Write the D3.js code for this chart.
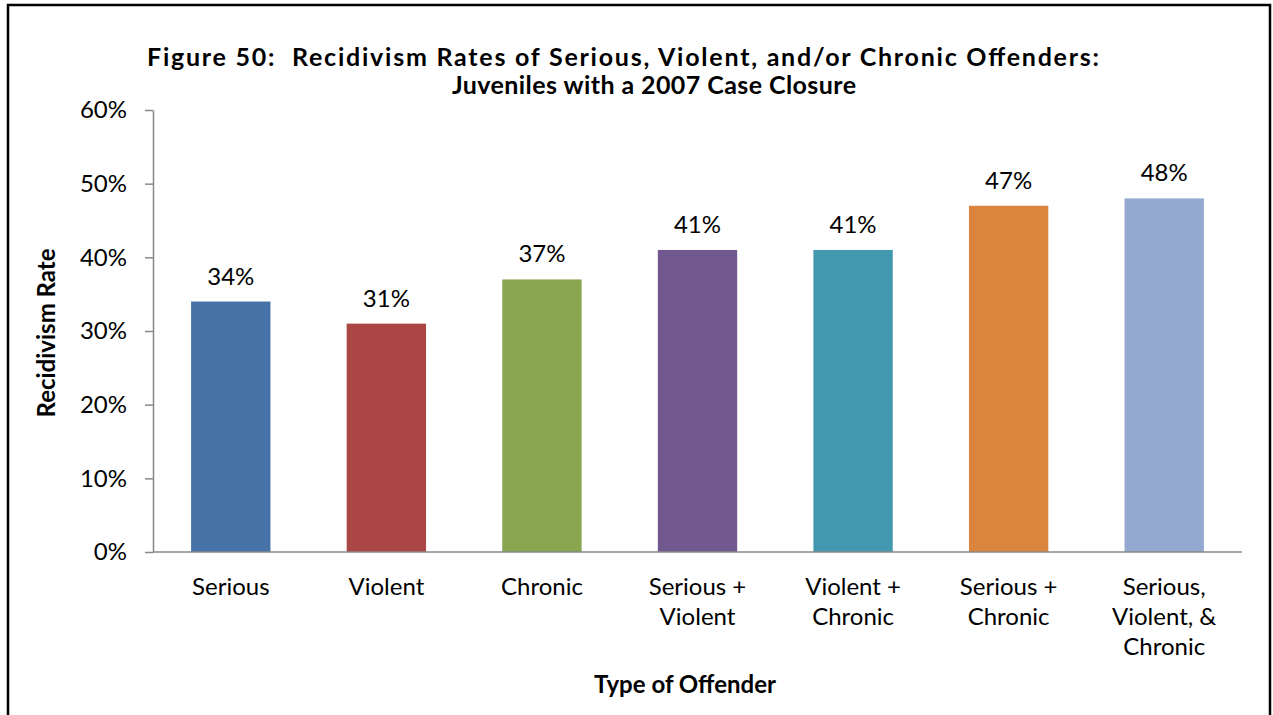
<!DOCTYPE html>
<html><head><meta charset="utf-8">
<script src="https://cdn.jsdelivr.net/npm/d3@7"></script>
<style>body{margin:0;background:#fff;} text{font-family:Lato,"Liberation Sans",sans-serif;}</style>
</head><body><svg id="c" width="1273" height="715"></svg>
<script>
const categories = [["Serious"],["Violent"],["Chronic"],["Serious +","Violent"],["Violent +","Chronic"],["Serious +","Chronic"],["Serious,","Violent, &","Chronic"]];
const values = [0.34,0.31,0.37,0.41,0.41,0.47,0.48];
const colors = ["#4572A7","#AA4643","#89A54E","#71588F","#4198AF","#DB843D","#93A9CF"];
const yTicks = [0,0.1,0.2,0.3,0.4,0.5,0.6];
const titleLines = ["Figure 50:\u00A0 Recidivism Rates of Serious, Violent, and/or Chronic Offenders:","Juveniles with a 2007 Case Closure"];
const titleWidths = [952, 404];
const titleCenters = [623, 654];

const svg = d3.select("#c");
svg.append("rect").attr("x",8).attr("y",5).attr("width",1262).attr("height",720)
  .attr("fill","none").attr("stroke","#000").attr("stroke-width",2.5);

const L=153, R=1242, T=110, B=552;
const x = d3.scaleBand().domain(d3.range(categories.length)).range([L,R]).paddingInner(0.49).paddingOuter(0.245);
const y = d3.scaleLinear().domain([0,0.6]).range([B,T]);

svg.selectAll("rect.bar").data(values).join("rect").attr("class","bar")
  .attr("x",(d,i)=>x(i)).attr("width",x.bandwidth())
  .attr("y",d=>y(d)).attr("height",d=>B-y(d)).attr("fill",(d,i)=>colors[i]);

const ya = svg.append("g").attr("transform",`translate(${L},0)`)
  .call(d3.axisLeft(y).tickValues(yTicks).tickFormat(d3.format(".0%")).tickSize(8).tickPadding(18).tickSizeOuter(0));
ya.select(".domain").attr("stroke","#888").attr("stroke-width",1.5);
ya.selectAll(".tick line").attr("stroke","#888").attr("stroke-width",1.5);
ya.selectAll(".tick text").attr("font-size",24).attr("fill","#000").attr("font-family","Lato");

const xa = svg.append("g").attr("transform",`translate(0,${B})`)
  .call(d3.axisBottom(x).tickSize(0).tickFormat(""));
xa.select(".domain").attr("stroke","#888").attr("stroke-width",1.5).attr("d",`M${L},0H${R}`);

svg.selectAll("text.cat").data(categories).join("text").attr("class","cat")
  .attr("text-anchor","middle").attr("font-size",24).attr("fill","#000")
  .each(function(d,i){
    const t=d3.select(this);
    d.forEach((s,j)=>t.append("tspan").attr("x",x(i)+x.bandwidth()/2).attr("y",595+j*30).text(s));
  });

svg.selectAll("text.val").data(values).join("text").attr("class","val")
  .attr("x",(d,i)=>x(i)+x.bandwidth()/2).attr("y",d=>y(d)-17)
  .attr("text-anchor","middle").attr("font-size",24).attr("fill","#000")
  .text(d=>d3.format(".0%")(d));

svg.selectAll("text.title").data(titleLines).join("text").attr("class","title")
  .attr("x",(d,i)=>titleCenters[i]).attr("y",(d,i)=>66+i*28).attr("text-anchor","middle")
  .attr("font-size",25).attr("font-weight","bold")
  .attr("textLength",(d,i)=>titleWidths[i]).attr("lengthAdjust","spacing").text(d=>d);

svg.append("text").attr("x",685).attr("y",693).attr("text-anchor","middle")
  .attr("font-size",24).attr("font-weight","bold").text("Type of Offender");
svg.append("text").attr("transform","translate(55,333) rotate(-90)").attr("text-anchor","middle")
  .attr("font-size",24).attr("font-weight","bold").text("Recidivism Rate");
</script></body></html>
